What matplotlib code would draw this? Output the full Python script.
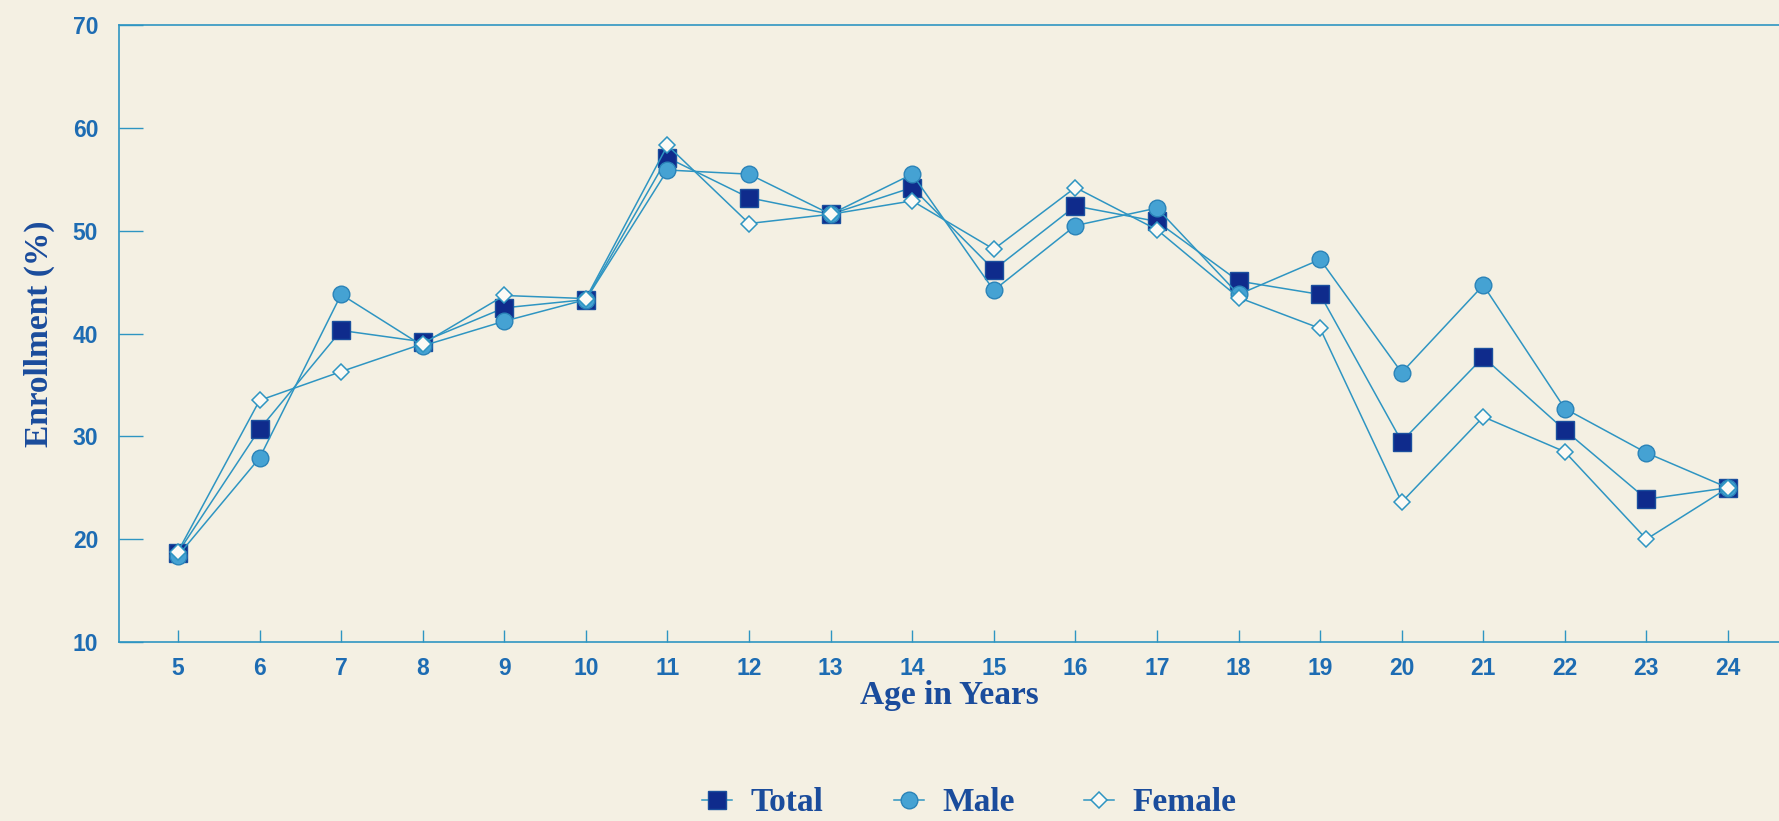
import matplotlib
matplotlib.use("Agg")
import matplotlib.pyplot as plt

# ages on the x axis
ages = list(range(5, 25))

# enrollment (%)
total = [18.7, 30.7, 40.3, 39.2, 42.5, 43.3, 57.1, 53.2, 51.6, 54.2, 46.2,
         52.4, 50.9, 45.1, 43.8, 29.5, 37.7, 30.6, 23.9, 25.0]
male = [18.4, 27.9, 43.8, 38.8, 41.2, 43.3, 55.9, 55.5, 51.6, 55.5, 44.2,
        50.5, 52.2, 43.8, 47.2, 36.2, 44.7, 32.7, 28.4, 25.0]
female = [18.8, 33.5, 36.3, 39.0, 43.7, 43.4, 58.3, 50.7, 51.6, 52.9, 48.2,
          54.2, 50.1, 43.5, 40.5, 23.6, 31.9, 28.5, 20.0, 25.0]

yticks = [10, 20, 30, 40, 50, 60, 70]

# colours
bg = "#f4f0e3"
line_col = "#2e95c2"
tick_col = "#1d6cb3"
label_col = "#1a4c9c"
sq_col = "#0f2b8c"
circ_col = "#45a2d3"

fig = plt.figure(figsize=(17.79, 8.21), dpi=100, facecolor=bg)
ax = fig.add_axes([0.0669, 0.218, 0.9331, 0.7515], facecolor=bg)

ax.plot(ages, total, color=line_col, lw=1.1, marker="s", ms=13,
        mfc=sq_col, mec="#1b4f9e", mew=1.0, label="Total", zorder=3)
ax.plot(ages, male, color=line_col, lw=1.1, marker="o", ms=12,
        mfc=circ_col, mec="#2a83b8", mew=1.0, label="Male", zorder=4)
ax.plot(ages, female, color=line_col, lw=1.1, marker="D", ms=8.5,
        mfc="#fbfaf5", mec=line_col, mew=1.1, label="Female", zorder=5)

ax.set_xlim(4.277, 24.625)
ax.set_ylim(10, 70)
ax.set_xticks(ages)
ax.set_yticks(yticks)

ax.spines["right"].set_visible(False)
for s in ["left", "bottom", "top"]:
    ax.spines[s].set_color(line_col)
    ax.spines[s].set_linewidth(1.2)

ax.tick_params(axis="x", direction="in", length=8.5, width=1.0, color=line_col,
               pad=11, labelsize=16.5, labelcolor=tick_col)
ax.tick_params(axis="y", direction="in", length=17, width=1.0, color=line_col,
               pad=15, labelsize=16.5, labelcolor=tick_col)
for t in ax.get_xticklabels() + ax.get_yticklabels():
    t.set_fontfamily("Liberation Sans")
    t.set_fontweight("bold")

ax.set_xlabel("Age in Years", fontsize=24, fontweight="bold",
              family="Liberation Serif", color=label_col, labelpad=0)
ax.set_ylabel("Enrollment (%)", fontsize=24, fontweight="bold",
              family="Liberation Serif", color=label_col, labelpad=13)

leg = fig.legend(loc="center", bbox_to_anchor=(0.545, 0.022), ncol=3,
                 frameon=False, handlelength=0.9, handletextpad=0.55,
                 columnspacing=2.1, borderaxespad=0,
                 prop={"family": "Liberation Serif", "weight": "bold", "size": 24})
for t in leg.get_texts():
    t.set_color(label_col)

fig.savefig("out.png", dpi=100, facecolor=bg)
